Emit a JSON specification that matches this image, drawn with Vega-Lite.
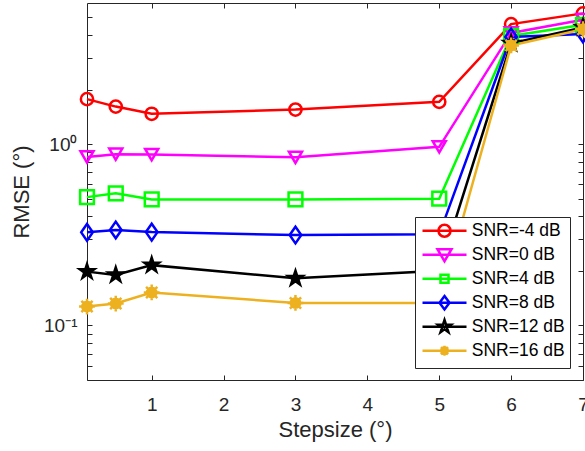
{
  "$schema": "https://vega.github.io/schema/vega-lite/v6.json",
  "width": 496,
  "height": 377,
  "autosize": "none",
  "padding": {"left": 87, "top": 3, "right": 2, "bottom": 71},
  "background": "white",
  "config": {
    "view": {"stroke": "#262626", "strokeWidth": 1},
    "font": "Liberation Sans",
    "axis": {
      "grid": false,
      "domain": false,
      "tickColor": "#262626",
      "tickWidth": 1,
      "labelColor": "#262626",
      "titleColor": "#262626",
      "labelFont": "Liberation Sans",
      "titleFont": "Liberation Sans",
      "labelFontSize": 19,
      "titleFontSize": 22,
      "titleFontWeight": "normal"
    }
  },
  "data": {
    "values": [
      {"series": "SNR=-4 dB", "step": 0.1, "rmse": 1.77},
      {"series": "SNR=-4 dB", "step": 0.5, "rmse": 1.61},
      {"series": "SNR=-4 dB", "step": 1, "rmse": 1.47},
      {"series": "SNR=-4 dB", "step": 3, "rmse": 1.55},
      {"series": "SNR=-4 dB", "step": 5, "rmse": 1.71},
      {"series": "SNR=-4 dB", "step": 6, "rmse": 4.59},
      {"series": "SNR=-4 dB", "step": 7, "rmse": 5.26},
      {"series": "SNR=0 dB", "step": 0.1, "rmse": 0.85},
      {"series": "SNR=0 dB", "step": 0.5, "rmse": 0.88},
      {"series": "SNR=0 dB", "step": 1, "rmse": 0.875},
      {"series": "SNR=0 dB", "step": 3, "rmse": 0.845},
      {"series": "SNR=0 dB", "step": 5, "rmse": 0.966},
      {"series": "SNR=0 dB", "step": 6, "rmse": 4.1},
      {"series": "SNR=0 dB", "step": 7, "rmse": 4.85},
      {"series": "SNR=4 dB", "step": 0.1, "rmse": 0.51},
      {"series": "SNR=4 dB", "step": 0.5, "rmse": 0.535},
      {"series": "SNR=4 dB", "step": 1, "rmse": 0.495},
      {"series": "SNR=4 dB", "step": 3, "rmse": 0.495},
      {"series": "SNR=4 dB", "step": 5, "rmse": 0.5},
      {"series": "SNR=4 dB", "step": 6, "rmse": 3.95},
      {"series": "SNR=4 dB", "step": 7, "rmse": 4.55},
      {"series": "SNR=8 dB", "step": 0.1, "rmse": 0.326},
      {"series": "SNR=8 dB", "step": 0.5, "rmse": 0.336},
      {"series": "SNR=8 dB", "step": 1, "rmse": 0.327},
      {"series": "SNR=8 dB", "step": 3, "rmse": 0.315},
      {"series": "SNR=8 dB", "step": 5, "rmse": 0.318},
      {"series": "SNR=8 dB", "step": 6, "rmse": 3.9},
      {"series": "SNR=8 dB", "step": 7, "rmse": 4.05},
      {"series": "SNR=12 dB", "step": 0.1, "rmse": 0.198},
      {"series": "SNR=12 dB", "step": 0.5, "rmse": 0.19},
      {"series": "SNR=12 dB", "step": 1, "rmse": 0.215},
      {"series": "SNR=12 dB", "step": 3, "rmse": 0.182},
      {"series": "SNR=12 dB", "step": 5, "rmse": 0.2},
      {"series": "SNR=12 dB", "step": 6, "rmse": 3.6},
      {"series": "SNR=12 dB", "step": 7, "rmse": 4.4},
      {"series": "SNR=16 dB", "step": 0.1, "rmse": 0.127},
      {"series": "SNR=16 dB", "step": 0.5, "rmse": 0.132},
      {"series": "SNR=16 dB", "step": 1, "rmse": 0.152},
      {"series": "SNR=16 dB", "step": 3, "rmse": 0.133},
      {"series": "SNR=16 dB", "step": 5, "rmse": 0.133},
      {"series": "SNR=16 dB", "step": 6, "rmse": 3.5},
      {"series": "SNR=16 dB", "step": 7, "rmse": 4.3}
    ]
  },
  "layer": [
    {
      "mark": {"type": "line", "strokeWidth": 2.5},
      "encoding": {
        "x": {
          "field": "step", "type": "quantitative",
          "scale": {"domain": [0.1, 7], "nice": false, "zero": false},
          "axis": {"orient": "bottom", "values": [1, 2, 3, 4, 5, 6, 7], "tickSize": -5, "labelPadding": 20, "labelFlush": false, "title": "Stepsize (°)", "titlePadding": 5}
        },
        "y": {
          "field": "rmse", "type": "quantitative",
          "scale": {"type": "log", "domain": [0.05, 6], "nice": false},
          "axis": {"orient": "left", "values": [0.05, 0.06, 0.07, 0.08, 0.09, 0.1, 0.2, 0.3, 0.4, 0.5, 0.6, 0.7, 0.8, 0.9, 1, 2, 3, 4, 5], "tickSize": -5, "labelPadding": 15, "labelFlush": false, "labelExpr": "datum.value == 1 ? '10⁰' : (abs(datum.value - 0.1) < 1e-9 ? '10⁻¹' : '')", "title": "RMSE (°)", "titlePadding": 10}
        },
        "color": {
          "field": "series", "type": "nominal",
          "scale": {"domain": ["SNR=-4 dB", "SNR=0 dB", "SNR=4 dB", "SNR=8 dB", "SNR=12 dB", "SNR=16 dB"], "range": ["#FF0000", "#FF00FF", "#00FF00", "#0000FF", "#000000", "#EDB120"]},
          "legend": null
        }
      }
    },
    {
      "mark": {"type": "point", "filled": false, "strokeWidth": 2.5, "opacity": 1},
      "encoding": {
        "x": {"field": "step", "type": "quantitative", "scale": {"domain": [0.1, 7], "nice": false, "zero": false}, "axis": null},
        "y": {"field": "rmse", "type": "quantitative", "scale": {"type": "log", "domain": [0.05, 6], "nice": false}, "axis": null},
        "color": {
          "field": "series", "type": "nominal",
          "scale": {"domain": ["SNR=-4 dB", "SNR=0 dB", "SNR=4 dB", "SNR=8 dB", "SNR=12 dB", "SNR=16 dB"], "range": ["#FF0000", "#FF00FF", "#00FF00", "#0000FF", "#000000", "#EDB120"]},
          "legend": null
        },
        "fill": {
          "field": "series", "type": "nominal",
          "scale": {"domain": ["SNR=-4 dB", "SNR=0 dB", "SNR=4 dB", "SNR=8 dB", "SNR=12 dB", "SNR=16 dB"], "range": ["transparent", "transparent", "transparent", "transparent", "#000000", "#EDB120"]},
          "legend": null
        },
        "shape": {
          "field": "series", "type": "nominal",
          "scale": {"domain": ["SNR=-4 dB", "SNR=0 dB", "SNR=4 dB", "SNR=8 dB", "SNR=12 dB", "SNR=16 dB"], "range": [
            "circle",
            "triangle-down",
            "square",
            "M0,-1.15L0.8,0L0,1.15L-0.8,0Z",
            "M0,-1L0.2245,-0.309L0.951,-0.309L0.363,0.118L0.588,0.809L0,0.382L-0.588,0.809L-0.363,0.118L-0.951,-0.309L-0.2245,-0.309Z",
            "M-1,0H1M0,-1V1M-0.71,-0.71L0.71,0.71M-0.71,0.71L0.71,-0.71M0.6,0A0.6,0.6,0,1,1,-0.6,0A0.6,0.6,0,1,1,0.6,0Z"
          ]},
          "legend": null
        },
        "size": {
          "field": "series", "type": "nominal",
          "scale": {"domain": ["SNR=-4 dB", "SNR=0 dB", "SNR=4 dB", "SNR=8 dB", "SNR=12 dB", "SNR=16 dB"], "range": [150, 250, 70, 170, 380, 130]},
          "legend": null
        }
      }
    },
    {
      "mark": {"type": "point", "filled": false, "opacity": 0},
      "encoding": {
        "x": {"field": "step", "type": "quantitative", "scale": {"domain": [0.1, 7], "nice": false, "zero": false}, "axis": null},
        "y": {"field": "rmse", "type": "quantitative", "scale": {"type": "log", "domain": [0.05, 6], "nice": false}, "axis": null},
        "shape": {
          "field": "series", "type": "nominal",
          "scale": {"domain": ["SNR=-4 dB", "SNR=0 dB", "SNR=4 dB", "SNR=8 dB", "SNR=12 dB", "SNR=16 dB"], "range": [
            "M3.15,-1.35M3.15,1.35M-1.25,0H7.55M4.35,0A1.2,1.2,0,1,1,1.95,0A1.2,1.2,0,1,1,4.35,0Z",
            "M3.15,-1.35M3.15,1.35M-1.25,0H7.55M1.75,-1.1L4.55,-1.1L3.15,1.3Z",
            "M3.15,-1.35M3.15,1.35M-1.25,0H7.55M2.35,-0.8H3.95V0.8H2.35Z",
            "M3.15,-1.35M3.15,1.35M-1.25,0H7.55M3.15,-1.35L4.15,0L3.15,1.35L2.15,0Z",
            "M3.15,-1.35M3.15,1.35M-1.25,0H7.55M3.15,-1.35L3.453,-0.417L4.434,-0.417L3.64,0.159L3.944,1.092L3.15,0.516L2.356,1.092L2.66,0.159L1.866,-0.417L2.847,-0.417Z",
            "M3.15,-1.35M3.15,1.35M-1.25,0H7.55M2.15,0H4.15M3.15,-1V1M2.44,-0.71L3.86,0.71M2.44,0.71L3.86,-0.71M3.8,0A0.65,0.65,0,1,1,2.5,0A0.65,0.65,0,1,1,3.8,0Z"
          ]},
          "legend": {
            "title": null,
            "orient": "none",
            "legendX": 328,
            "legendY": 214,
            "padding": 5,
            "columnPadding": 0,
            "fillColor": "white",
            "strokeColor": "#262626",
            "symbolSize": 100,
            "symbolStrokeWidth": 2.5,
            "symbolOpacity": 1,
            "symbolOffset": 0,
            "labelOffset": 34.25,
            "labelFontSize": 17.5,
            "labelFont": "Liberation Sans",
            "labelColor": "#000000",
            "rowPadding": 0,
            "symbolStrokeColor": {"expr": "datum.value == 'SNR=-4 dB' ? '#FF0000' : datum.value == 'SNR=0 dB' ? '#FF00FF' : datum.value == 'SNR=4 dB' ? '#00FF00' : datum.value == 'SNR=8 dB' ? '#0000FF' : datum.value == 'SNR=12 dB' ? '#000000' : '#EDB120'"},
            "symbolFillColor": {"expr": "datum.value == 'SNR=12 dB' ? '#000000' : datum.value == 'SNR=16 dB' ? '#EDB120' : 'transparent'"}
          }
        }
      }
    },
    {
      "mark": {"type": "point", "opacity": 0},
      "encoding": {
        "x": {
          "field": "step", "type": "quantitative",
          "scale": {"domain": [0.1, 7], "nice": false, "zero": false},
          "axis": {"orient": "top", "values": [1, 2, 3, 4, 5, 6, 7], "tickSize": -5, "labels": false, "title": null}
        },
        "y": {
          "field": "rmse", "type": "quantitative",
          "scale": {"type": "log", "domain": [0.05, 6], "nice": false},
          "axis": {"orient": "right", "values": [0.05, 0.06, 0.07, 0.08, 0.09, 0.1, 0.2, 0.3, 0.4, 0.5, 0.6, 0.7, 0.8, 0.9, 1, 2, 3, 4, 5], "tickSize": -5, "labels": false, "title": null}
        }
      }
    }
  ],
  "resolve": {
    "scale": {"shape": "independent"},
    "axis": {"x": "independent", "y": "independent"}
  }
}
